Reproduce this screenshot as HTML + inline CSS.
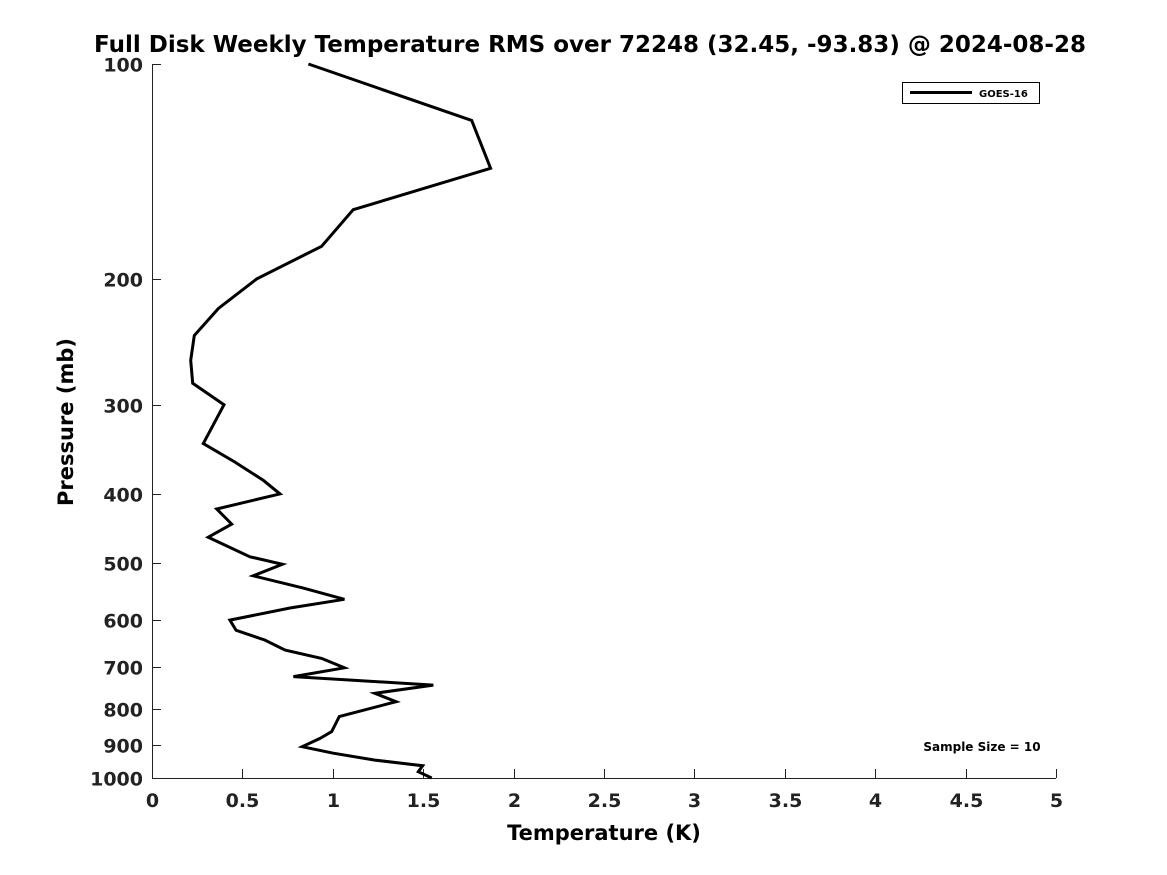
<!DOCTYPE html>
<html><head><meta charset="utf-8"><style>
body{margin:0;background:#fff;}
svg{display:block;font-family:"DejaVu Sans","Liberation Sans",sans-serif;font-weight:bold;}
</style></head><body>
<svg id="chart" width="1167" height="875" viewBox="0 0 1167 875">
<rect width="1167" height="875" fill="#fff"/>
<text x="590" y="52" text-anchor="middle" font-size="23">Full Disk Weekly Temperature RMS over 72248 (32.45, -93.83) @ 2024-08-28</text>
<g id="axes"></g>
<path id="series" fill="none" stroke="#000" stroke-width="3" stroke-linejoin="miter"/>
<g>
<rect x="902.5" y="82.5" width="137" height="21" fill="#fff" stroke="#000" stroke-width="1"/>
<line x1="910" y1="92.5" x2="972" y2="92.5" stroke="#000" stroke-width="3"/>
<text x="979" y="97" font-size="10">GOES-16</text>
</g>
<text x="982" y="751" text-anchor="middle" font-size="12">Sample Size = 10</text>
<text x="604" y="840" text-anchor="middle" font-size="21">Temperature (K)</text>
<text transform="translate(73,422) rotate(-90)" text-anchor="middle" font-size="21">Pressure (mb)</text>
</svg>
<script>
const pressures=[100,120,140,160,180,200,220,240,260,280,300,340,361,383,400,420,441,460,490,502,521,542,562,578,601,621,641,662,680,701,721,741,761,782,820,861,880,904,923,944,961,980,1000];
const rmsValues=[0.865,1.768,1.873,1.113,0.938,0.579,0.367,0.234,0.214,0.225,0.398,0.284,0.459,0.616,0.708,0.358,0.441,0.311,0.542,0.721,0.560,0.837,1.064,0.763,0.431,0.465,0.625,0.736,0.938,1.064,0.782,1.556,1.233,1.350,1.036,0.994,0.929,0.831,1.003,1.233,1.497,1.473,1.547];
const xTicks=[0,0.5,1,1.5,2,2.5,3,3.5,4,4.5,5];
const yTicks=[100,200,300,400,500,600,700,800,900,1000];
const L=152,R=1056,T=64,B=778;
function xs(v){return L+(v-0)/(5-0)*(R-L);}
function ys(p){return T+Math.log10(p/100)*(B-T);}
const NS='http://www.w3.org/2000/svg';
const axes=document.getElementById('axes');
function mk(tag,attrs){const e=document.createElementNS(NS,tag);for(const k in attrs)e.setAttribute(k,attrs[k]);return e;}
const xl=mk('line',{x1:L,y1:B+0.5,x2:R,y2:B+0.5,stroke:'#222','stroke-width':1});


axes.appendChild(xl);
const yl=mk('line',{x1:L+0.5,y1:T,x2:L+0.5,y2:B,stroke:'#222','stroke-width':1});


axes.appendChild(yl);
xTicks.forEach(v=>{const x=Math.round(xs(v))+0.5;
 const t=mk('line',{x1:x,y1:B,x2:x,y2:B-9,stroke:'#222','stroke-width':1});
 
 
 axes.appendChild(t);
 const s=mk('text',{x:x,y:B+29,'text-anchor':'middle','font-size':19,fill:'#222'});
 
 
 s.textContent=String(v);axes.appendChild(s);});
yTicks.forEach(p=>{const y=Math.round(ys(p))+0.5;
 const t=mk('line',{x1:L,y1:y,x2:L+9,y2:y,stroke:'#222','stroke-width':1});
 
 
 axes.appendChild(t);
 const s=mk('text',{x:L-9,y:y+7,'text-anchor':'end','font-size':19,fill:'#222'});
 
 
 s.textContent=String(p);axes.appendChild(s);});
document.getElementById('series').setAttribute('d',pressures.map((p,i)=>(i?'L':'M')+xs(rmsValues[i]).toFixed(1)+','+ys(p).toFixed(1)).join(' '));
</script>
</body></html>
